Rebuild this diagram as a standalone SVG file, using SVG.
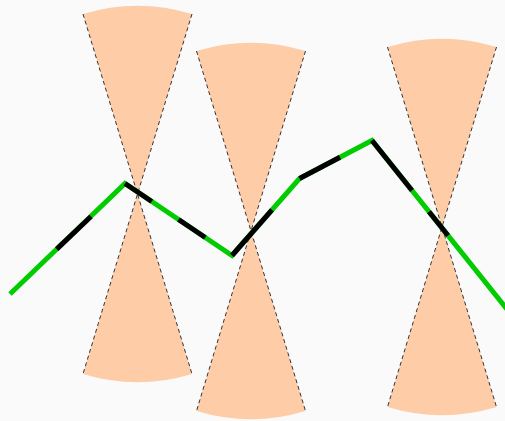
<svg xmlns="http://www.w3.org/2000/svg" width="505" height="421" viewBox="0 0 505 421">
<style>
.sec{fill:#ffcca8;stroke:none}
.edge{stroke:#333;stroke-width:1;stroke-dasharray:4 3;fill:none}
.g{stroke:#00cc00;stroke-width:5;fill:none;stroke-linejoin:miter}
.b{stroke:#000;stroke-width:5;fill:none;stroke-linecap:butt}
</style>
<rect width="505" height="421" fill="#fafafa"/>
<g id="cone1">
<path class="sec" d="M137.5,194 L83,14 A188,188 0 0 1 192,14 Z"/>
<path class="sec" d="M137.5,194 L192,374 A188,188 0 0 1 83,374 Z"/>
<line class="edge" x1="83" y1="14" x2="192" y2="374"/>
<line class="edge" x1="192" y1="14" x2="83" y2="374"/>
</g>
<g id="cone2">
<path class="sec" d="M251,231 L196.5,51 A188,188 0 0 1 305.5,51 Z"/>
<path class="sec" d="M251,231 L305.5,411 A188,188 0 0 1 196.5,411 Z"/>
<line class="edge" x1="196.5" y1="51" x2="305.5" y2="411"/>
<line class="edge" x1="305.5" y1="51" x2="196.5" y2="411"/>
</g>
<g id="cone3">
<path class="sec" d="M442,227 L387.5,47 A188,188 0 0 1 496.5,47 Z"/>
<path class="sec" d="M442,227 L496.5,407 A188,188 0 0 1 387.5,407 Z"/>
<line class="edge" x1="387.5" y1="47" x2="496.5" y2="407"/>
<line class="edge" x1="496.5" y1="47" x2="387.5" y2="407"/>
</g>
<g id="connectors">
<polyline class="g" points="10,294 125,183.5 232,255.5 299.5,178.5 372,140.5 512,315.5"/>
<line class="b" x1="56.7" y1="249.1" x2="91" y2="216.5"/>
<line class="b" x1="125" y1="183.5" x2="151.75" y2="201.5"/>
<line class="b" x1="178.5" y1="219.5" x2="205.25" y2="237.5"/>
<line class="b" x1="232" y1="255.5" x2="272" y2="209.9"/>
<line class="b" x1="299.5" y1="178.5" x2="340" y2="157.3"/>
<line class="b" x1="372" y1="140.5" x2="412" y2="190.5"/>
<line class="b" x1="429" y1="211.75" x2="448" y2="235.5"/>
</g>
</svg>
